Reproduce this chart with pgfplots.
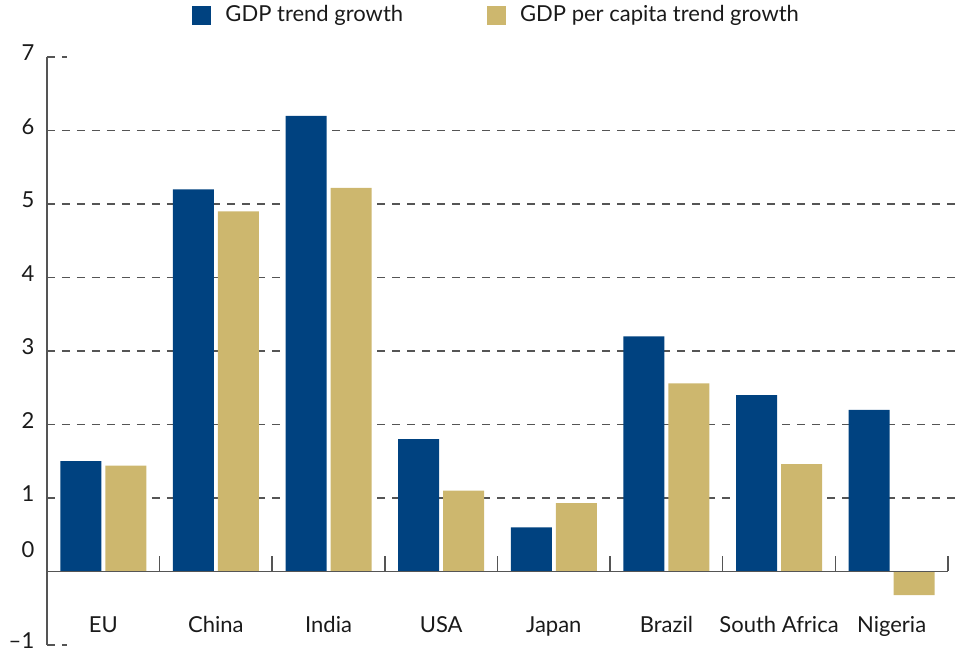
\documentclass[border=0pt]{standalone}
\usepackage{fontspec}
\setmainfont{Lato}
\usepackage{pgfplots}
\pgfplotsset{compat=1.18}
\definecolor{gdpblue}{HTML}{004280}
\definecolor{gdpgold}{HTML}{CDB76E}
\definecolor{axgray}{HTML}{555555}
\definecolor{textc}{HTML}{1A1A1A}
\begin{document}
\fontsize{11}{13}\selectfont
\begin{tikzpicture}
\begin{axis}[
 at={(0,0)}, anchor=south west,
 scale only axis, width=450.5pt, height=294pt,
 xmin=-0.5, xmax=7.5, ymin=-1, ymax=7,
 axis line style={draw=none},
 clip=false,
 xtick={0,...,7},
 xticklabels={EU,China,India,USA,Japan,Brazil,South Africa,Nigeria},
 major tick length=0pt,
 xticklabel style={anchor=base, yshift=6pt, text=textc},
 ytick={-1,...,7},
 yticklabels={–1,\raisebox{9pt}[0.7em][0pt]{0},1,2,3,4,5,6,7},
 yticklabel style={anchor=east, xshift=-2.5pt, yshift=2pt, text=textc},
 legend columns=2,
 legend style={draw=none, fill=none, at={(0.161,1.071)}, anchor=west, inner sep=0pt, text=textc,
   /tikz/every even column/.append style={column sep=40pt}},
]
\pgfplotsinvokeforeach{1,2,3,4,5,6}{
  \draw[axgray, line width=0.75pt, dash pattern=on 4pt off 3.5pt] (axis cs:-0.5,#1) -- (axis cs:7.608,#1);
}
\addplot[ybar, bar width=0.364, bar shift=-0.2, fill=gdpblue, draw=none,
  legend image code/.code={\fill[gdpblue] (0pt,-4.75pt) rectangle (9.5pt,4.75pt); \path (14.5pt,0pt);}]
  coordinates {(0,1.5) (1,5.2) (2,6.2) (3,1.8) (4,0.6) (5,3.2) (6,2.4) (7,2.2)};
\addplot[ybar, bar width=0.364, bar shift=0.2, fill=gdpgold, draw=none,
  legend image code/.code={\fill[gdpgold] (0pt,-4.75pt) rectangle (9.5pt,4.75pt); \path (14.5pt,0pt);}]
  coordinates {(0,1.44) (1,4.9) (2,5.22) (3,1.1) (4,0.93) (5,2.56) (6,1.46) (7,-0.32)};
\legend{GDP trend growth, GDP per capita trend growth}
\draw[axgray, line width=0.75pt] (axis cs:-0.5,-1) -- (axis cs:-0.5,7);
\draw[axgray, line width=0.75pt] (axis cs:-0.5,0) -- (axis cs:7.5,0);
\pgfplotsinvokeforeach{0.5,1.5,2.5,3.5,4.5,5.5,6.5,7.5}{
  \draw[axgray, line width=0.75pt] (axis cs:#1,0) -- ++(0pt,7.5pt);
}
\draw[axgray, line width=0.75pt, dash pattern=on 4pt off 3.5pt] (axis cs:-0.5,7) -- ++(10pt,0pt);
\draw[axgray, line width=0.75pt, dash pattern=on 4pt off 3.5pt] (axis cs:-0.5,-1) -- ++(10pt,0pt);
\end{axis}
\pgfresetboundingbox
\path (-23.5pt,-4pt) rectangle (456.5pt,322.5pt);
\end{tikzpicture}
\end{document}
